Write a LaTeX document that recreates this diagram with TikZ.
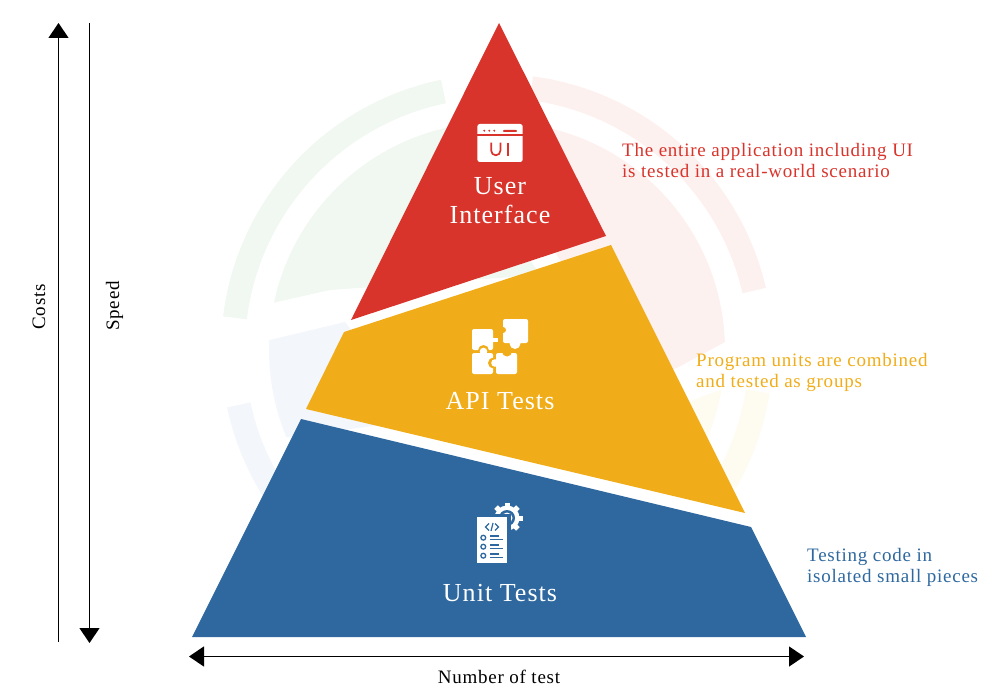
\documentclass[tikz,border=0pt]{standalone}
\usepackage{fontspec}
\setmainfont[LetterSpace=4]{Liberation Serif}
\usetikzlibrary{arrows.meta,positioning}
\definecolor{uired}{HTML}{D8342B}
\definecolor{apiyellow}{HTML}{F0AD19}
\definecolor{unitblue}{HTML}{2E689F}
\definecolor{palegreen}{HTML}{F1F8F2}
\definecolor{palered}{HTML}{FDF1F0}
\definecolor{paleblue}{HTML}{F3F6FB}
\definecolor{paleyellow}{HTML}{FEFBF0}
\tikzstyle{layer}=[draw=none]
\tikzstyle{title}=[font=\fontsize{26}{29}\selectfont,text=white,align=center,inner sep=0pt]
\tikzstyle{note}=[font=\fontsize{19}{21}\selectfont,align=left,inner sep=0pt,anchor=west]
\tikzstyle{axisboth}=[draw,line width=1.3pt,{Triangle[length=15pt,width=20pt]}-{Triangle[length=15pt,width=20pt]}]
\tikzstyle{axisup}=[draw,line width=1.3pt,{Triangle[length=15pt,width=20pt]}-]
\tikzstyle{axisdown}=[draw,line width=1.3pt,-{Triangle[length=15pt,width=20pt]}]
\tikzstyle{axislabel}=[font=\fontsize{19}{20}\selectfont,inner sep=0pt]
\begin{document}
\begin{tikzpicture}[x=1pt,y=-1pt]
    \useasboundingbox (0,0) rectangle (1000,700);
    % faint rings behind the pyramid
    \coordinate (hub) at (497,350);
    \foreach \col/\from/\to in {palegreen/-173/-101.7, palered/-82.5/-13,
        paleblue/-192/-215, paleyellow/9/30}
        \fill[\col] (hub) ++(\from:276) arc (\from:\to:276) -- ([shift={(hub)}]\to:252) arc (\to:\from:252) -- cycle;
    \fill[palegreen] (hub) ++(-168:228) arc (-168:-103:228) -- (540,275) -- (330,290) -- cycle;
    \fill[palered] (hub) ++(-76:228) arc (-76:-2:228) -- (677,368) -- (640,380) -- (520,200) -- cycle;
    \fill[paleblue] (hub) ++(-177.5:228) arc (-177.5:-202.5:228) -- (420,420) -- (345,322) -- cycle;
    \fill[paleyellow] (693,400) -- ([shift={(hub)}]10:228) arc (10:30:228) -- (660,420) -- cycle;

    % Draw the three layers
    \path[layer,fill=uired] (499,23) -- (606,236) -- (351,320) -- cycle;
    \path[layer,fill=apiyellow] (611,245) -- (745,513) -- (306,409) -- (344,332) -- cycle;
    \path[layer,fill=unitblue] (301,419) -- (751,527) -- (806,637) -- (192,637) -- cycle;

    % UI icon
    \fill[white,rounded corners=2.5pt] (477.3,124) rectangle (522.7,162);
    \fill[uired] (477.3,134.5) rectangle (522.7,136);
    \foreach \x in {484.3,489.3,494.3}
        \fill[uired] (\x,130.7) circle (1.1);
    \fill[uired,rounded corners=.8pt] (503,130) rectangle (517,132);
    \draw[uired,line width=1.7pt] (491.2,142.7) -- (491.2,150.7) arc (180:0:4.6) -- (500.4,142.7);
    \draw[uired,line width=1.7pt] (508,142.7) -- (508,155.7);

    % puzzle icon
    \fill[white,rounded corners=2pt] (472,329) rectangle (493,350);
    \fill[apiyellow] (483.5,350.5) circle (5.5);
    \fill[white] (493,338) rectangle (498,341.5);
    \fill[white,rounded corners=2pt] (472,353) rectangle (493,374);
    \fill[white] (483.5,351.5) circle (3.8);
    \fill[apiyellow] (493.5,363) circle (5.5);
    \fill[white,rounded corners=2pt] (496,353) rectangle (517,374);
    \fill[apiyellow] (507,351.5) circle (5);
    \fill[white] (495,363) circle (3.8);
    \fill[white,rounded corners=2pt] (503,319) rectangle (528,343);
    \fill[apiyellow] (503,330) circle (3);
    \fill[white] (515,343.5) circle (5.5);

    % document and gear icon
    \coordinate (gear) at (507,518);
    \fill[white] (gear) circle (12.5);
    \foreach \a in {0,45,...,315}
        \draw[white,line width=5pt] (gear) ++(\a:11) -- ++(\a:4.5);
    \fill[unitblue] (gear) circle (8);
    \fill[white] (gear) circle (5.5);
    \fill[unitblue] (gear) circle (3);
    \fill[unitblue] (474,514) rectangle (510.5,567);
    \fill[white] (477,517) rectangle (507,563);
    \draw[unitblue,line width=1.2pt] (489,523.5) -- (485.5,527) -- (489,530.5) (495,523.5) -- (498.5,527) -- (495,530.5)
        (493,523) -- (491,531);
    \foreach \y in {537.7,546.7,555.7} {
        \draw[unitblue,line width=1.3pt] (483.3,\y) circle (2.4);
        \draw[unitblue,line width=1.3pt] (490,\y-1.8) -- (499,\y-1.8) (490,\y+1.5) -- (503,\y+1.5);
    }

    % Titles and notes
    \node[title] (user) at (500,200.5) {User\\Interface};
    \node[title] (api) at (500,401.5) {API Tests};
    \node[title] (unit) at (500,593.5) {Unit Tests};
    \node[note,text=uired] (uinote) at (622,161) {The entire application including UI\\is tested in a real-world scenario};
    \node[note,text=apiyellow] (apinote) at (696,372.5) {Program units are combined\\and tested as groups};
    \node[note,text=unitblue] (unitnote) at (807,567.5) {Testing code in\\isolated small pieces};

    % Axes
    \coordinate (costtop) at (58.5,23);
    \coordinate (costbot) at (58.5,642);
    \coordinate (speedtop) at (89.5,23);
    \coordinate (speedbot) at (89.5,643);
    \coordinate (testleft) at (189,656.5);
    \coordinate (testright) at (804,656.5);
    \path[axisup] (costtop) -- (costbot);
    \path[axisdown] (speedtop) -- (speedbot);
    \path[axisboth] (testleft) -- (testright);
    \node[axislabel,rotate=90] (costs) at (39,307) {Costs};
    \node[axislabel,rotate=90] (speed) at (114.5,306) {Speed};
    \node[axislabel] (number) at (499,677) {Number of test};
\end{tikzpicture}
\end{document}
